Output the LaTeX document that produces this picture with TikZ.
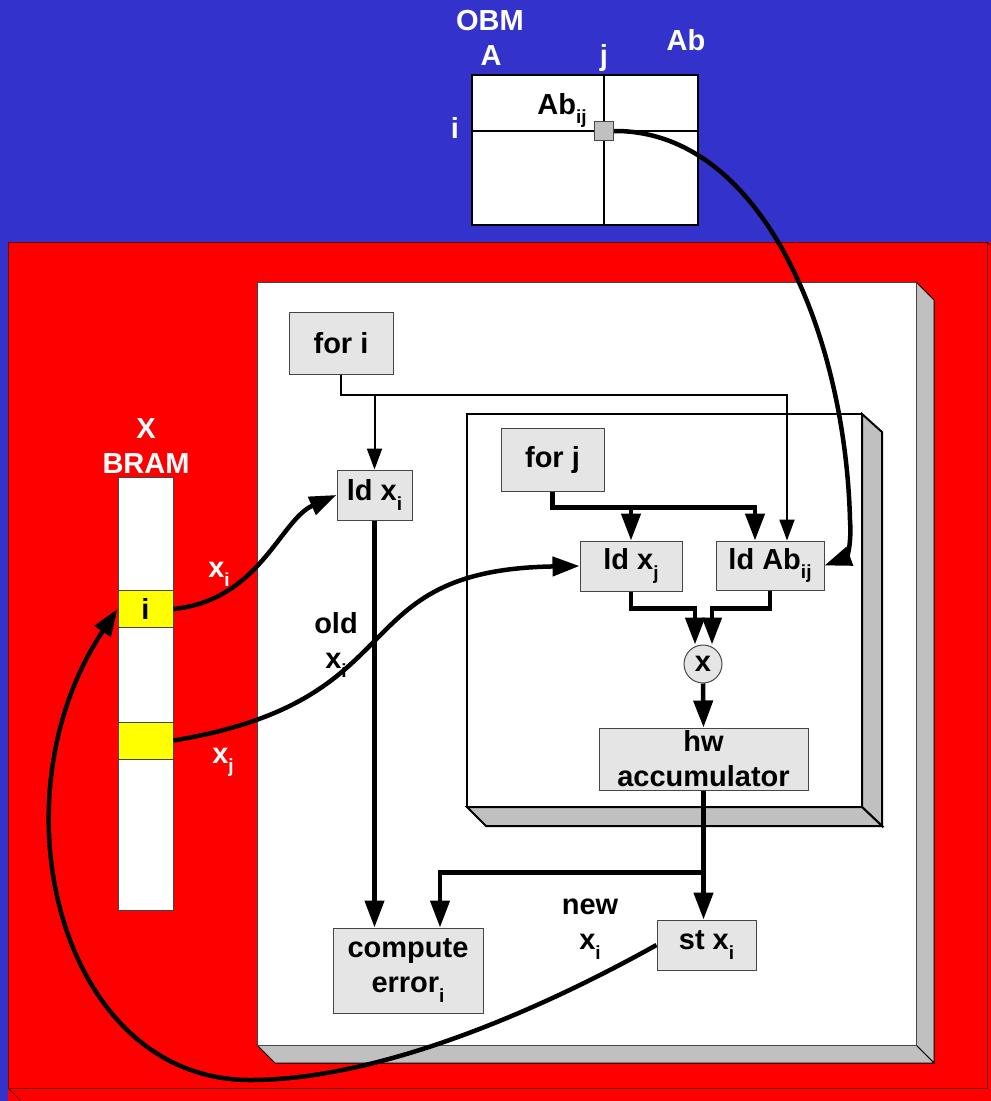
\documentclass[tikz,border=0pt]{standalone}
\usepackage{fontspec}
\setmainfont{Liberation Sans}
\usetikzlibrary{arrows.meta, positioning}
\definecolor{obmblue}{RGB}{51, 51, 204}
\definecolor{fpgared}{RGB}{255, 0, 0}
\definecolor{edgered}{RGB}{110, 0, 0}
\definecolor{boxgray}{RGB}{229, 229, 229}
\definecolor{shadegray}{RGB}{192, 192, 192}
\definecolor{rimgray}{RGB}{70, 70, 70}
\definecolor{cellyellow}{RGB}{255, 255, 0}
\newcommand{\sbs}[1]{\raisebox{-0.33em}{\fontsize{19}{19}\selectfont #1}}

\begin{document}
\begin{tikzpicture}[
  x=1pt, y=-1pt,
  every node/.style={font=\fontsize{29}{35}\selectfont\bfseries},
  box/.style={
    rectangle, draw=rimgray, fill=boxgray, line width=1pt,
    align=center, inner sep=0pt
  },
  bramcell/.style={
    rectangle, draw=rimgray, fill=cellyellow, line width=1pt,
    minimum width=55, minimum height=37, inner sep=0pt
  },
  lbl/.style={anchor=base, inner sep=0pt, text=#1},
  mlbl/.style={inner sep=0pt, align=center, text=#1},
  bevel/.style={fill=shadegray, draw=black, line width=1pt},
  thin line/.style={line width=2pt},
  thin arrow/.style={line width=2pt, -{Triangle[length=21pt, width=15pt]}},
  fat line/.style={line width=4.5pt},
  fat arrow/.style={line width=4.5pt, -{Triangle[length=27pt, width=19pt]}},
  curve arrow/.style={line width=4.5pt, -{Triangle[length=27pt, width=19pt]}}
]
\useasboundingbox (0,0) rectangle (991,1101);

% ── Background: OBM and FPGA ──────────────────────────────────────────────────
\fill[obmblue] (0,0) rectangle (991,1101);
\fill[fpgared] (8,242) rectangle (991,1101);
\draw[edgered, line width=1pt] (8,242) rectangle (987,1088);
\draw[edgered, line width=1pt] (987,242) -- (991,246) (8,1088) -- (21,1101);

% ── OBM matrix A|b ────────────────────────────────────────────────────────────
\node[draw=black, fill=white, line width=2.5pt, minimum width=226,
      minimum height=150, inner sep=0pt] (obm) at (585,150) {};
\coordinate (aij) at (604,131);
\draw[thin line] (obm.north -| aij) -- (obm.south -| aij);
\draw[thin line] (obm.west |- aij) -- (obm.east |- aij);
\node[draw=rimgray, fill=shadegray, line width=1pt, minimum size=19,
      inner sep=0pt] (abij) at (aij) {};

\node[lbl=white] (obmlbl) at (490,30)  {OBM};
\node[lbl=white] (albl)   at (491,65)  {A};
\node[lbl=white] (jlbl)   at (604,65)  {j};
\node[lbl=white] (ablbl)  at (686,50)  {Ab};
\node[lbl=white] (ilbl)   at (455,138) {i};
\node[lbl=black] (abijlbl) at (562,114) {Ab\sbs{ij}};

% ── Outer loop panel ──────────────────────────────────────────────────────────
\draw[bevel] (916,282) -- (934,300) -- (934,1063) -- (916,1045) -- cycle;
\draw[bevel] (257,1045) -- (916,1045) -- (934,1063) -- (275,1063) -- cycle;
\draw[fill=white, draw=rimgray, line width=1pt] (257,282) rectangle (916,1045);

% ── Inner loop panel ──────────────────────────────────────────────────────────
\draw[bevel, line width=2pt] (862,414) -- (882,432) -- (882,826) -- (862,807) -- cycle;
\draw[bevel, line width=2pt] (467,807) -- (862,807) -- (882,826) -- (486,826) -- cycle;
\draw[fill=white, line width=2.5pt] (467,414) rectangle (862,807);

% ── X BRAM ────────────────────────────────────────────────────────────────────
\node[mlbl=white] (bramlbl) at (146,446) {X\\BRAM};
\node[draw=rimgray, fill=white, line width=1pt, minimum width=55,
      minimum height=433, inner sep=0pt] (bram) at (145.5,693.5) {};
\node[bramcell] (celli) at (145.5,609)   {i};
\node[bramcell] (cellj) at (145.5,740.5) {};

\node[lbl=white] (xilbl) at (219,577) {x\sbs{i}};
\node[lbl=white] (xjlbl) at (223,763) {x\sbs{j}};

% ── Operations ────────────────────────────────────────────────────────────────
\node[box, minimum width=104, minimum height=62] (fori)    at (341,343)     {for i};
\node[box, minimum width=75,  minimum height=50] (ldxi)    at (374.5,495)   {ld x\sbs{i}};
\node[box, minimum width=103, minimum height=63] (forj)    at (552.5,459.5) {for j};
\node[box, minimum width=102, minimum height=50] (ldxj)    at (631,566)     {ld x\sbs{j}};
\node[box, minimum width=108, minimum height=49] (ldab)    at (770,565.5)   {ld Ab\sbs{ij}};
\node[box, circle, minimum size=38]              (mult)    at (703,664)     {x};
\node[box, minimum width=209, minimum height=62] (hwacc)   at (703.5,759)   {hw\\accumulator};
\node[box, minimum width=150, minimum height=85] (comperr) at (408,970.5)   {compute\\error\sbs{i}};
\node[box, minimum width=99,  minimum height=50] (stxi)    at (706.5,945)   {st x\sbs{i}};

\node[mlbl=black] (oldlbl) at (336,645) {old\\x\sbs{i}};
\node[mlbl=black] (newlbl) at (590,929) {new\\x\sbs{i}};

% loop control
\draw[thin arrow] (fori.south) -- ++(0,20) coordinate (ibus)
  -| ([xshift=17pt]ldab.north);
\draw[thin arrow] (ldxi.north |- ibus) -- (ldxi.north);
\draw[fat arrow] (forj.south) -- ++(0,16) coordinate (jbus)
  -| ([xshift=-15pt]ldab.north);
\draw[fat arrow] (ldxj.north |- jbus) -- (ldxj.north);

% data path
\draw[fat arrow] (ldxj.south) -- ++(0,17) -| ([xshift=-8pt]mult.north);
\draw[fat arrow] (ldab.south) -- ++(0,18) -| ([xshift=9pt]mult.north);
\draw[fat arrow] (mult.south) -- (hwacc.north);
\draw[fat line] (hwacc.south) -- ++(0,82) coordinate (accbus);
\draw[fat arrow] (accbus) -- (accbus |- stxi.north);
\draw[fat arrow] (accbus) -| ([xshift=32pt]comperr.north);
\draw[fat arrow] (ldxi.south) -- (ldxi.south |- comperr.north);

% memory transfers
\draw[curve arrow] (celli.east) .. controls (260,600) and (280,520) .. (ldxi.west);
\draw[curve arrow] (cellj.east) .. controls (420,700) and (340,570) .. (ldxj.west);
\draw[curve arrow] (abij.east) .. controls (760,130) and (845,330) .. (850,520)
  .. controls (852,550) and (845,558) .. (ldab.east);
\draw[curve arrow] (stxi.west) .. controls (540,1010) and (380,1080) .. (250,1080)
  .. controls (60,1080) and (-10,800) .. (celli.west);

\end{tikzpicture}
\end{document}
